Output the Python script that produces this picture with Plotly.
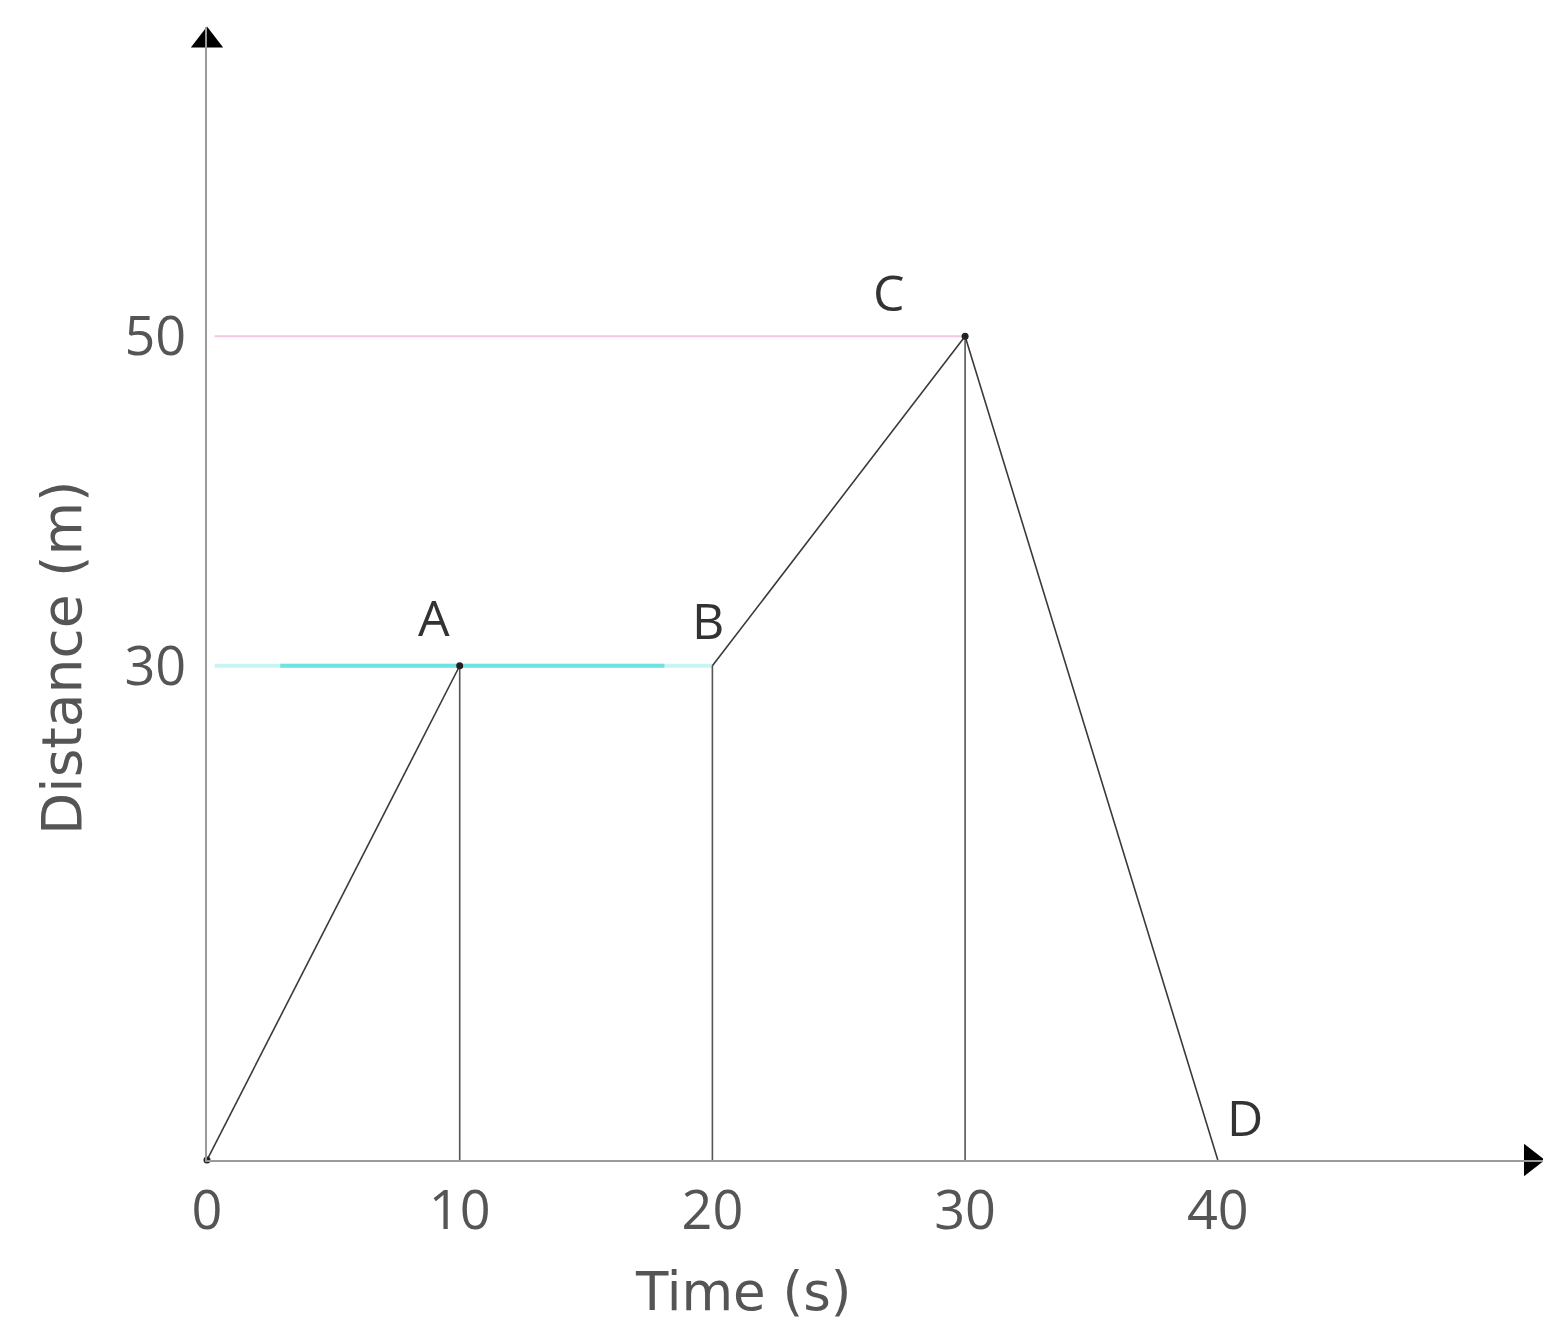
import plotly.graph_objects as go

# ---- data ----
point_labels = ["O", "A", "B", "C", "D"]
time_s = [0, 10, 20, 30, 40]
distance_m = [0, 30, 30, 50, 0]
x_ticks = [0, 10, 20, 30, 40]
y_ticks = [30, 50]
x_title = "Time (s)"
y_title = "Distance (m)"

# page has an 8px body margin; figure coords = page coords - 8
W, H = 1535, 1316
ML, MR, MT, MB = 199, 0, 19, 164
PW, PH = W - ML - MR, H - MT - MB
XMAX = PW / 25.27
YMAX = PH / 16.475

AXIS_COL = "#9a9a9a"
LINE_COL = "#3a3a3a"
TXT_COL = "#555555"
FONT = "Open Sans"
TFONT = "DejaVu Sans"

fig = go.Figure()

# reference (projection) lines
fig.add_trace(go.Scatter(x=[0.3, time_s[3]], y=[distance_m[3]] * 2, mode="lines",
                         line=dict(color="#f6c6e4", width=2), hoverinfo="skip", cliponaxis=False))
fig.add_trace(go.Scatter(x=[0.3, time_s[2]], y=[distance_m[2]] * 2, mode="lines",
                         line=dict(color="#c8f4f4", width=4), hoverinfo="skip", cliponaxis=False))
fig.add_trace(go.Scatter(x=[2.9, 18.1], y=[distance_m[2]] * 2, mode="lines",
                         line=dict(color="#6fe3e3", width=4), hoverinfo="skip", cliponaxis=False))

# vertical drops from A, B, C
for i in (1, 2, 3):
    fig.add_trace(go.Scatter(x=[time_s[i], time_s[i]], y=[0, distance_m[i]], mode="lines",
                             line=dict(color="#555555", width=1.6), hoverinfo="skip", cliponaxis=False))

# main path (A-B segment is covered by the cyan line)
fig.add_trace(go.Scatter(x=time_s[:2], y=distance_m[:2], mode="lines",
                         line=dict(color=LINE_COL, width=1.6), cliponaxis=False))
fig.add_trace(go.Scatter(x=time_s[2:], y=distance_m[2:], mode="lines",
                         line=dict(color=LINE_COL, width=1.6), cliponaxis=False))
fig.add_trace(go.Scatter(x=[time_s[0], time_s[1], time_s[3]], y=[distance_m[0], distance_m[1], distance_m[3]],
                         mode="markers", marker=dict(color="#222222", size=7), cliponaxis=False))

# axis arrowheads
fig.add_trace(go.Scatter(x=[XMAX * 0.991], y=[0], mode="markers",
                         marker=dict(symbol="triangle-right", size=28, color="black"), cliponaxis=False))
fig.add_trace(go.Scatter(x=[0], y=[YMAX * 0.988], mode="markers",
                         marker=dict(symbol="triangle-up", size=28, color="black"), cliponaxis=False))

# point letters
offsets = {"A": (-26, -49), "B": (-4, -46), "C": (-76, -44), "D": (27, -43)}
for lab, t, d in zip(point_labels, time_s, distance_m):
    if lab in offsets:
        dx, dy = offsets[lab]
        fig.add_annotation(x=t, y=d, text=lab, showarrow=False, xshift=dx, yshift=-dy,
                           xanchor="center", yanchor="middle",
                           font=dict(family=FONT, size=50, color="#333333"))

# axis titles (target page positions minus 8px body margin)
fig.add_annotation(xref="paper", yref="paper", x=(735 - ML) / PW, y=-(1283 - (H - MB)) / PH,
                   xanchor="center", yanchor="middle",
                   text=x_title, showarrow=False, font=dict(family=TFONT, size=53, color=TXT_COL))
fig.add_annotation(xref="paper", yref="paper", x=-(ML - 54) / PW, y=(H - MB - 650) / PH,
                   xanchor="center", yanchor="middle",
                   text=y_title, showarrow=False, textangle=-90, font=dict(family=TFONT, size=55, color=TXT_COL))

fig.update_layout(
    width=W, height=H, margin=dict(l=ML, r=MR, t=MT, b=MB, autoexpand=False),
    paper_bgcolor="white", plot_bgcolor="white", showlegend=False,
    xaxis=dict(range=[0, XMAX], tickvals=x_ticks, ticktext=[str(v) for v in x_ticks], automargin=False,
               showgrid=False, zeroline=False, showline=True, linecolor=AXIS_COL, linewidth=2,
               ticks="", ticklabelstandoff=2, tickfont=dict(family=FONT, size=54, color=TXT_COL)),
    yaxis=dict(range=[0, YMAX], tickvals=y_ticks, ticktext=[str(v) for v in y_ticks], automargin=False,
               showgrid=False, zeroline=False, showline=True, linecolor=AXIS_COL, linewidth=2,
               ticks="", ticklabelstandoff=8, tickfont=dict(family=FONT, size=54, color=TXT_COL)),
)

fig.write_html("out.html")
